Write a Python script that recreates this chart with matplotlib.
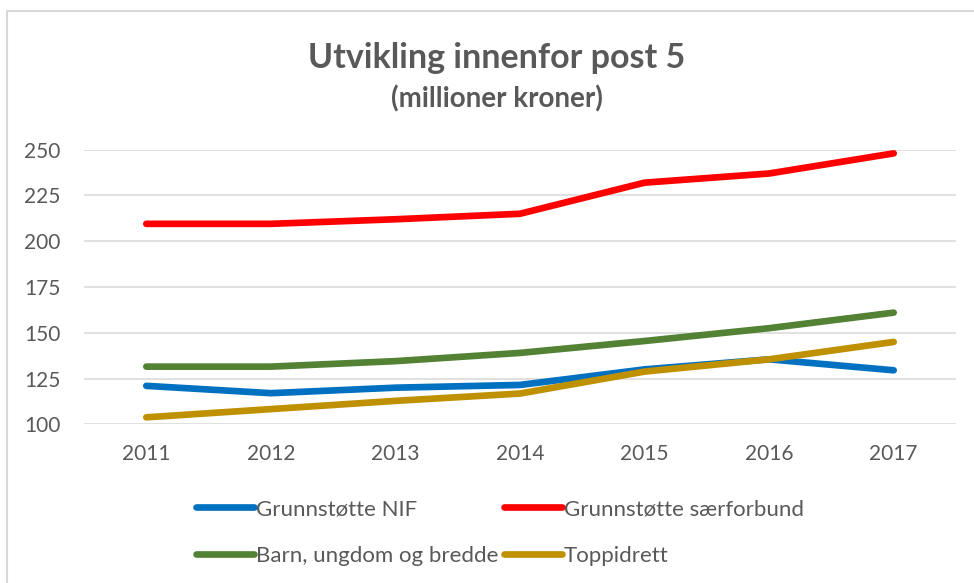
import matplotlib
matplotlib.use("Agg")
import matplotlib.pyplot as plt
from matplotlib.patches import Rectangle

plt.rcParams['font.family'] = ['Lato', 'DejaVu Sans']

years = ['2011', '2012', '2013', '2014', '2015', '2016', '2017']
grunnstotte_nif = [121, 117, 120, 121.5, 130, 135.5, 129.5]
grunnstotte_serforbund = [209.5, 209.5, 212, 215, 232, 237, 248]
barn_ungdom_bredde = [131.5, 131.5, 134.5, 139, 145.5, 152.5, 161]
toppidrett = [103.8, 108.3, 112.8, 116.8, 128.8, 135.5, 145]

series = [
    ('Grunnstøtte NIF', grunnstotte_nif, '#0070C0'),
    ('Grunnstøtte særforbund', grunnstotte_serforbund, '#FF0000'),
    ('Barn, ungdom og bredde', barn_ungdom_bredde, '#548235'),
    ('Toppidrett', toppidrett, '#BF9000'),
]

text_color = '#595959'
grid_color = '#d9d9d9'

fig = plt.figure(figsize=(9.74, 5.83), dpi=100)
ax = fig.add_axes([84 / 974, 1 - 424.3 / 583, (956 - 84) / 974, (424.3 - 149.7) / 583])

lines = {}
x = list(range(len(years)))
for name, vals, col in series:
    ln, = ax.plot(x, vals, color=col, lw=4.8, solid_capstyle='round',
                  solid_joinstyle='round', label=name, zorder=3)
    lines[name] = ln

ax.set_xlim(-0.5, len(years) - 0.5)
ax.set_ylim(100, 250)
ax.set_yticks([100, 125, 150, 175, 200, 225, 250])
ax.set_xticks(x)
ax.set_xticklabels(years)
ax.yaxis.grid(True, color=grid_color, lw=1.1)
ax.set_axisbelow(True)
for s in ax.spines.values():
    s.set_visible(False)
ax.tick_params(axis='both', length=0, labelsize=15, labelcolor=text_color)
ax.tick_params(axis='y', pad=17)
ax.tick_params(axis='x', pad=14)

fig.text(0.510, 1 - 68 / 583, 'Utvikling innenfor post 5', ha='center', va='baseline',
         fontsize=24.5, fontweight='bold', color=text_color)
fig.text(0.510, 1 - 107 / 583, '(millioner kroner)', ha='center', va='baseline',
         fontsize=20, fontweight='bold', color=text_color)

order = ['Grunnstøtte NIF', 'Barn, ungdom og bredde', 'Grunnstøtte særforbund', 'Toppidrett']
leg = fig.legend([lines[n] for n in order], order, ncol=2, frameon=False,
                 loc='upper left', bbox_to_anchor=(196 / 974, 1 - 499 / 583),
                 fontsize=16, handlelength=2.6, handletextpad=0.1,
                 columnspacing=0.25, labelspacing=1.2, borderpad=0, borderaxespad=0)
for t in leg.get_texts():
    t.set_color(text_color)

# outer chart frame (only top and left edges visible in the crop)
fig.add_artist(Rectangle((7 / 974, -0.1), 2, 1 - 11 / 583 + 0.1, transform=fig.transFigure,
                         fill=False, edgecolor=grid_color, lw=1.5, clip_on=False))

fig.savefig('out.png', dpi=100)
